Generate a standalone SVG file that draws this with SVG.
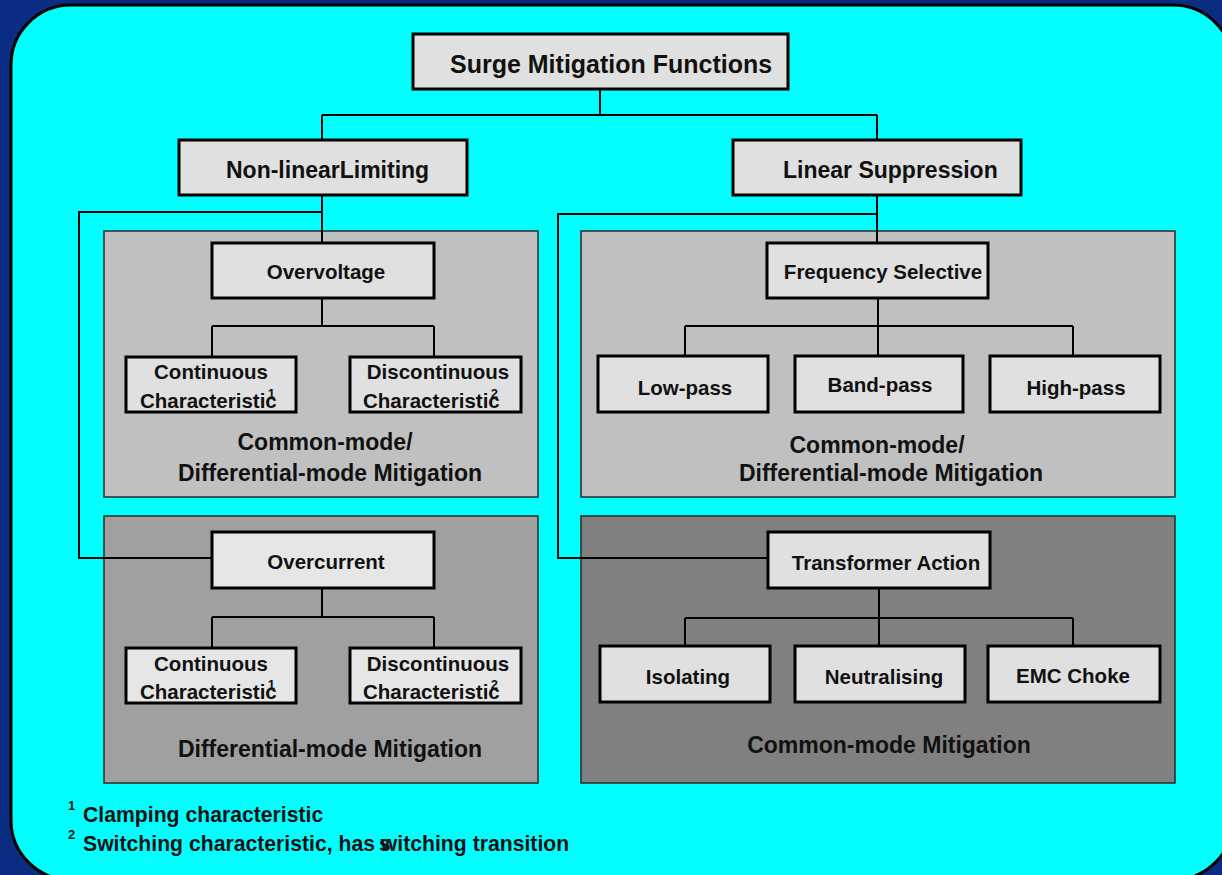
<svg xmlns="http://www.w3.org/2000/svg" width="1222" height="875" viewBox="0 0 1222 875">
<style>
text{font-family:"Liberation Sans",Arial,sans-serif;font-weight:bold;fill:#111}
.box{fill:#E0E0E0;stroke:#000;stroke-width:3}
.panel{stroke:#2a2a2a;stroke-width:1.5}
.conn{fill:none;stroke:#000;stroke-width:2}
.t25{font-size:25px}.t23{font-size:23px}.t20{font-size:20.5px}.t21{font-size:21.2px}.sup{font-size:13px}
.mid{text-anchor:middle}
</style>
<rect x="0" y="0" width="1222" height="875" fill="#0A2C82"/>
<rect x="11" y="5" width="1222" height="875" rx="60" ry="60" fill="#00FFFF" stroke="#000" stroke-width="3"/>
<g id="panels">
<rect id="panel-overvoltage" class="panel" x="104" y="231" width="434" height="266" fill="#C0C0C0"/>
<rect id="panel-overcurrent" class="panel" x="104" y="516" width="434" height="267" fill="#A0A0A0"/>
<rect id="panel-frequency" class="panel" x="581" y="231" width="594" height="266" fill="#C0C0C0"/>
<rect id="panel-transformer" class="panel" x="581" y="516" width="594" height="267" fill="#808080"/>
</g>
<g id="connectors">
<path class="conn" d="M600 89V115M322 115H877M322 115V140M877 115V140"/>
<path class="conn" d="M322 195V243M322 212H79V558H212"/>
<path class="conn" d="M322 298V326M212 326H434M212 326V357M434 326V357"/>
<path class="conn" d="M322 588V617M212 617H434M212 617V648M434 617V648"/>
<path class="conn" d="M877 195V243M877 214H558V558H768"/>
<path class="conn" d="M878 298V326M685 326H1073M685 326V356M878 326V356M1073 326V356"/>
<path class="conn" d="M879 588V618M685 618H1073M685 618V646M879 618V646M1073 618V646"/>
</g>
<g id="n-surge"><rect class="box" x="413" y="34" width="375" height="55"/><text class="t25" x="450" y="73">Surge Mitigation Functions</text></g>
<g id="n-nonlinear"><rect class="box" x="179" y="140" width="288" height="55"/><text class="t23" x="226" y="178">Non-linearLimiting</text></g>
<g id="n-linear"><rect class="box" x="733" y="140" width="288" height="55"/><text class="t23" x="783" y="178">Linear Suppression</text></g>
<g id="n-overvoltage"><rect class="box" x="212" y="243" width="222" height="55"/><text class="t20 mid" x="326" y="279">Overvoltage</text></g>
<g id="n-cont1"><rect class="box" x="126" y="357" width="170" height="55"/><text class="t20 mid" x="211" y="379">Continuous</text><text class="t20" x="140" y="408">Characteristic<tspan class="sup" dx="-9" dy="-10">1</tspan></text></g>
<g id="n-disc1"><rect class="box" x="350" y="357" width="171" height="55"/><text class="t20 mid" x="438" y="379">Discontinuous</text><text class="t20" x="363" y="408">Characteristic<tspan class="sup" dx="-9" dy="-10">2</tspan></text></g>
<g id="l-mit1"><text class="t23 mid" x="325" y="450">Common-mode/</text><text class="t23 mid" x="330" y="481">Differential-mode Mitigation</text></g>
<g id="n-overcurrent"><rect class="box" x="212" y="532" width="222" height="56" style="fill:#E6E6E6"/><text class="t20 mid" x="326" y="569">Overcurrent</text></g>
<g id="n-cont2"><rect class="box" x="126" y="648" width="170" height="55" style="fill:#E6E6E6"/><text class="t20 mid" x="211" y="671">Continuous</text><text class="t20" x="140" y="699">Characteristic<tspan class="sup" dx="-9" dy="-10">1</tspan></text></g>
<g id="n-disc2"><rect class="box" x="350" y="648" width="171" height="55" style="fill:#E6E6E6"/><text class="t20 mid" x="438" y="671">Discontinuous</text><text class="t20" x="363" y="699">Characteristic<tspan class="sup" dx="-9" dy="-10">2</tspan></text></g>
<g id="l-mit2"><text class="t23 mid" x="330" y="757">Differential-mode Mitigation</text></g>
<g id="n-frequency"><rect class="box" x="767" y="243" width="221" height="55"/><text class="t20 mid" x="883" y="279">Frequency Selective</text></g>
<g id="n-lowpass"><rect class="box" x="598" y="356" width="170" height="56"/><text class="t20 mid" x="685" y="395">Low-pass</text></g>
<g id="n-bandpass"><rect class="box" x="795" y="356" width="168" height="56"/><text class="t20 mid" x="880" y="392">Band-pass</text></g>
<g id="n-highpass"><rect class="box" x="990" y="356" width="170" height="56"/><text class="t20 mid" x="1076" y="395">High-pass</text></g>
<g id="l-mit3"><text class="t23 mid" x="877" y="453">Common-mode/</text><text class="t23 mid" x="891" y="481">Differential-mode Mitigation</text></g>
<g id="n-transformer"><rect class="box" x="768" y="532" width="222" height="56"/><text class="t20 mid" x="886" y="570">Transformer Action</text></g>
<g id="n-isolating"><rect class="box" x="600" y="646" width="170" height="56"/><text class="t20 mid" x="688" y="684">Isolating</text></g>
<g id="n-neutralising"><rect class="box" x="795" y="646" width="170" height="56"/><text class="t20 mid" x="884" y="684">Neutralising</text></g>
<g id="n-emc"><rect class="box" x="988" y="646" width="172" height="56"/><text class="t20 mid" x="1073" y="683">EMC Choke</text></g>
<g id="l-mit4"><text class="t23 mid" x="889" y="753">Common-mode Mitigation</text></g>
<g id="footnotes">
<text class="sup" x="68" y="810">1</text><text class="t21" x="83" y="822">Clamping characteristic</text>
<text class="sup" x="68" y="839">2</text><text class="t21" x="83" y="851">Switching characteristic, has<tspan dx="4">s</tspan><tspan dx="-10">witching transition</tspan></text>
</g>
</svg>
